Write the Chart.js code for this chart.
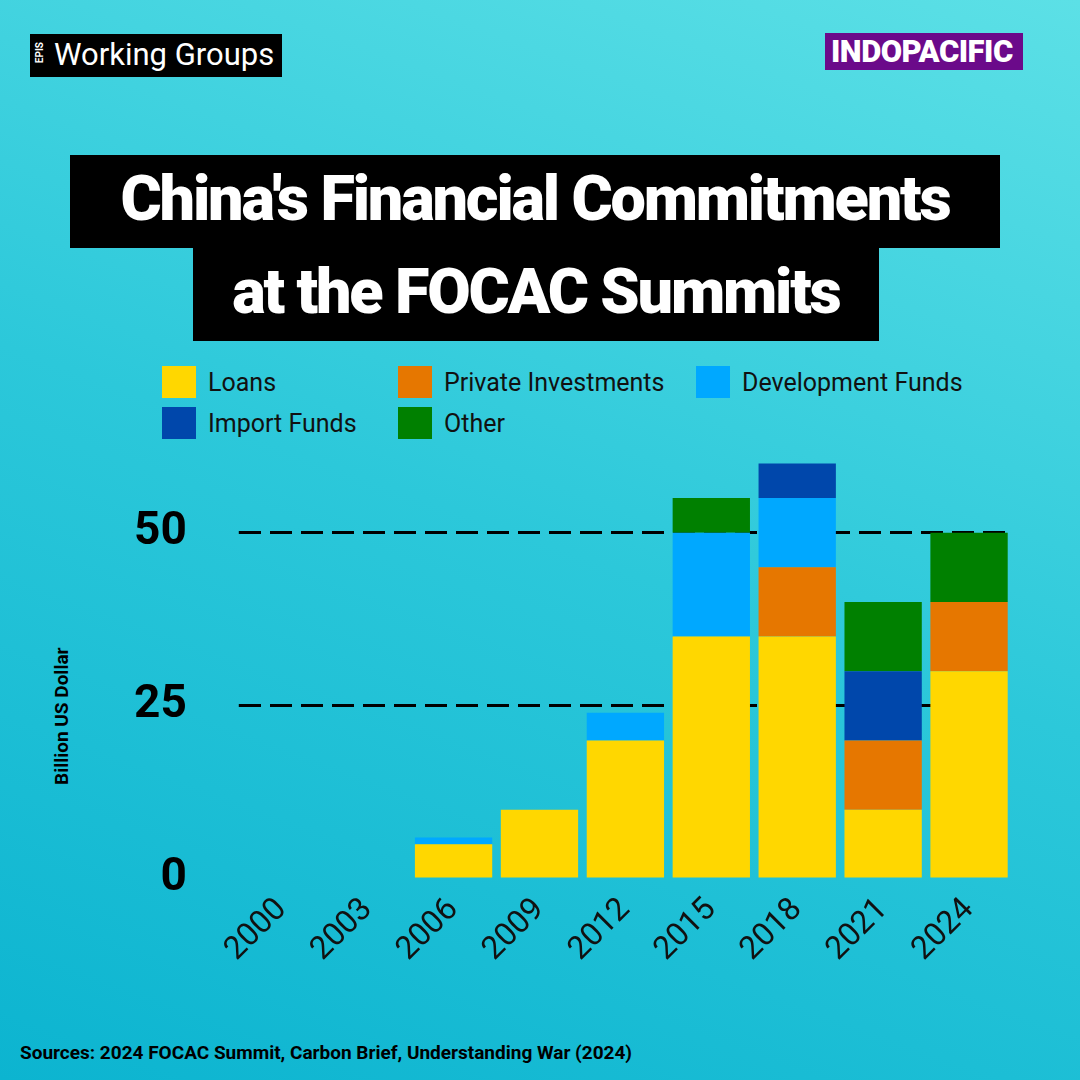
<!DOCTYPE html>
<html><head><meta charset="utf-8">
<script src="https://cdn.jsdelivr.net/npm/chart.js@4.4.1/dist/chart.umd.min.js"></script>
<style>
body{margin:0;width:1080px;height:1080px;overflow:hidden;font-family:Roboto,sans-serif;
 background:linear-gradient(20deg,#0cb4d0 0%,#2cc8da 50%,#5ce0e6 100%);position:relative}
.abs{position:absolute}
.brand{left:30px;top:34px;background:#000;color:#fff;font-size:31px;padding:2px 8px 4px 24px;}
.brand small{position:absolute;left:4px;top:8px;font-size:10px;writing-mode:vertical-rl;transform:rotate(180deg);font-weight:700}
.indo{left:825px;top:33px;background:#6b0a8a;color:#fff;font-weight:900;font-size:31px;padding:0 10px 0 6px;letter-spacing:-0.5px}
.t{background:#000;color:#fff;font-weight:900;font-size:63px;letter-spacing:-2.2px;line-height:88px;height:93px;text-align:center}
.leg{font-size:25px;color:#111;display:flex;align-items:center}
.leg i{display:inline-block;width:34px;height:32px;margin-right:12px}
.src{left:20px;top:1041px;font-weight:700;font-size:19px;color:#000}
.ylab{left:50px;top:785px;transform:rotate(-90deg);transform-origin:0 0;font-weight:700;font-size:19px}
</style></head><body>
<div class="abs brand"><small>EPIS</small>Working Groups</div>
<div class="abs indo">INDOPACIFIC</div>
<div class="abs t" style="left:70px;top:155px;width:930px">China's Financial Commitments</div>
<div class="abs t" style="left:193px;top:248px;width:686px">at the FOCAC Summits</div>
<div class="abs leg" style="left:162px;top:366px"><i style="background:#ffd700"></i>Loans</div>
<div class="abs leg" style="left:398px;top:366px"><i style="background:#e67700"></i>Private Investments</div>
<div class="abs leg" style="left:696px;top:366px"><i style="background:#00a8ff"></i>Development Funds</div>
<div class="abs leg" style="left:162px;top:407px"><i style="background:#0047ab"></i>Import Funds</div>
<div class="abs leg" style="left:398px;top:407px"><i style="background:#008000"></i>Other</div>
<div class="abs ylab">Billion US Dollar</div>
<div class="abs src">Sources: 2024 FOCAC Summit, Carbon Brief, Understanding War (2024)</div>
<div class="abs" style="left:82px;top:370px;width:948px;height:603px"><canvas id="c"></canvas></div>
<script>
const years = ['2000','2003','2006','2009','2012','2015','2018','2021','2024'];
const loans = [0, 0, 5, 10, 20, 35, 35, 10, 30];
const privateInv = [0, 0, 0, 0, 0, 0, 10, 10, 10];
const devFunds = [0, 0, 1, 0, 4, 15, 10, 0, 0];
const importFunds = [0, 0, 0, 0, 0, 0, 5, 10, 0];
const other = [0, 0, 0, 0, 0, 5, 0, 10, 10];
const yTicks = [0, 25, 50];

const ds = (label, data, color) => ({label, data, backgroundColor: color, barPercentage: 0.9, categoryPercentage: 1});

new Chart(document.getElementById('c'), {
  type: 'bar',
  data: {
    labels: years,
    datasets: [
      ds('Loans', loans, '#ffd700'),
      ds('Private Investments', privateInv, '#e67700'),
      ds('Development Funds', devFunds, '#00a8ff'),
      ds('Import Funds', importFunds, '#0047ab'),
      ds('Other', other, '#008000'),
    ],
  },
  options: {
    responsive: true, maintainAspectRatio: false, animation: false,
    layout: {padding: {top: 0, right: 18}},
    plugins: {legend: {display: false}, tooltip: {enabled: false}},
    scales: {
      x: {
        stacked: true, grid: {display: false}, border: {display: false},
        ticks: {color: '#111', font: {size: 32, family: 'Roboto'}, maxRotation: 45, minRotation: 45, padding: 4},
      },
      y: {
        stacked: true, min: 0, max: 62,
        afterBuildTicks: (a) => { a.ticks = yTicks.map(v => ({value: v})); },
        border: {display: false, dash: [22, 9]},
        grid: {color: (c) => c.tick.value === 0 ? 'transparent' : '#000', lineWidth: 3, tickLength: 0},
        ticks: {color: '#000', font: {size: 46, weight: 'bold', family: 'Roboto'}, padding: 52},
      },
    },
  },
});
</script>
</body></html>
